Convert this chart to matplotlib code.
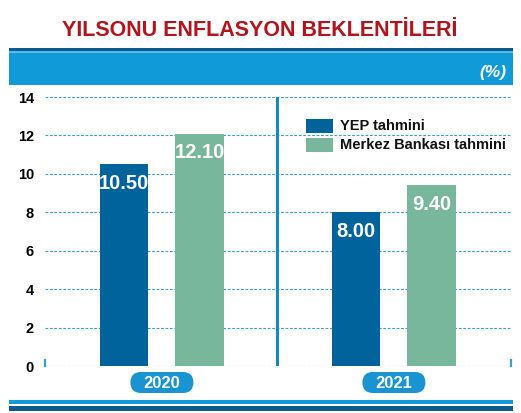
import matplotlib
matplotlib.use("Agg")
import matplotlib.pyplot as plt
from matplotlib import font_manager as fm
from matplotlib.patches import Rectangle, FancyBboxPatch
import numpy as np

# condensed font if there is one, otherwise Arial-like Liberation Sans
avail = {f.name for f in fm.fontManager.ttflist}
FONT = "Liberation Sans Narrow" if "Liberation Sans Narrow" in avail else "Liberation Sans"
plt.rcParams['font.family'] = [FONT, 'DejaVu Sans']

years = ["2020", "2021"]
yep_values = [10.50, 8.00]
mb_values = [12.10, 9.40]
series_names = ["YEP tahmini", "Merkez Bankası tahmini"]
y_ticks = [0, 2, 4, 6, 8, 10, 12, 14]
title = "YILSONU ENFLASYON BEKLENTİLERİ"
unit_label = "(%)"

DARK = "#00639b"
GREEN = "#78b79c"
BAND = "#109bd8"
NAVY = "#0b5a8f"
RED = "#b3151f"
GRID = "#3b9fd1"
PILL = "#1a93d3"

W, H = 521, 413
fig = plt.figure(figsize=(W / 100, H / 100), dpi=100)

# background axes working in pixel units (y down)
bg = fig.add_axes([0, 0, 1, 1], zorder=0)
bg.set_xlim(0, W)
bg.set_ylim(H, 0)
bg.axis("off")

bg.text(260, 31, title, ha="center", va="center", color=RED,
        fontsize=15.5, fontweight="bold")
bg.add_patch(Rectangle((9, 48), 504, 3, color=NAVY, lw=0))
bg.add_patch(Rectangle((9, 51), 504, 2, color="#5cb8e6", lw=0))
bg.add_patch(Rectangle((9, 53), 504, 32, color=BAND, lw=0))
bg.text(506, 72, unit_label, ha="right", va="center", color="white",
        fontsize=12.5, fontweight="bold", style="italic")

bg.add_patch(Rectangle((9, 400), 504, 4, color=BAND, lw=0))
bg.add_patch(Rectangle((9, 406), 504, 5, color=NAVY, lw=0))

# legend, drawn by hand to sit where the reference has it
for i, (name, col) in enumerate(zip(series_names, [DARK, GREEN])):
    y0 = 119 + i * 19
    bg.add_patch(Rectangle((306, y0), 27, 14, color=col, lw=0))
    bg.text(340, y0 + 7, name, ha="left", va="center", color="#111111",
            fontsize=10.5, fontweight="bold")

# chart axes
L, R, T, B = 45, 512, 97, 366
ax = fig.add_axes([L / W, 1 - B / H, (R - L) / W, (B - T) / H], zorder=1)
ax.set_ylim(0, 14)
ax.set_xlim(-0.504, 1.509)

x = np.arange(len(years))
bw = 0.207
off = 0.162
b1 = ax.bar(x - off, yep_values, bw, color=DARK, zorder=3)
b2 = ax.bar(x + off, mb_values, bw, color=GREEN, zorder=3)

for bars, vals in ((b1, yep_values), (b2, mb_values)):
    for r, v in zip(bars, vals):
        ax.text(r.get_x() + r.get_width() / 2, v - 0.98, f"{v:.2f}", ha="center",
                va="center", color="white", fontsize=14.5, fontweight="bold", zorder=4)

for t in y_ticks:
    ax.axhline(t, color=GRID, lw=0.8, ls=(0, (2.5, 1.5)), zorder=1)
ax.axvline(0.496, color="#1588c6", lw=2.2, zorder=2)
ax.plot([-0.502, -0.502], [0, 0.33], color=GRID, lw=1.6, clip_on=False)
ax.plot([1.505, 1.505], [0, 0.33], color=GRID, lw=1.6, clip_on=False)

ax.set_yticks(y_ticks)
ax.set_yticklabels([str(t) for t in y_ticks], fontsize=10.5, fontweight="bold")
ax.tick_params(axis="y", length=0, pad=8)
ax.set_xticks([])
for s in ax.spines.values():
    s.set_visible(False)
ax.patch.set_alpha(0)

# year pills under each group
x_to_px = lambda v: L + (v + 0.504) / 2.013 * (R - L)
for xi, yr in zip(x, years):
    px = x_to_px(xi)
    bg.add_patch(FancyBboxPatch((px - 31.5, 372), 63, 21,
                                boxstyle="round,pad=0,rounding_size=10.5",
                                color=PILL, lw=0))
    bg.text(px, 383, yr, ha="center", va="center", color="white",
            fontsize=12, fontweight="bold")

fig.savefig("out.png", dpi=100)
